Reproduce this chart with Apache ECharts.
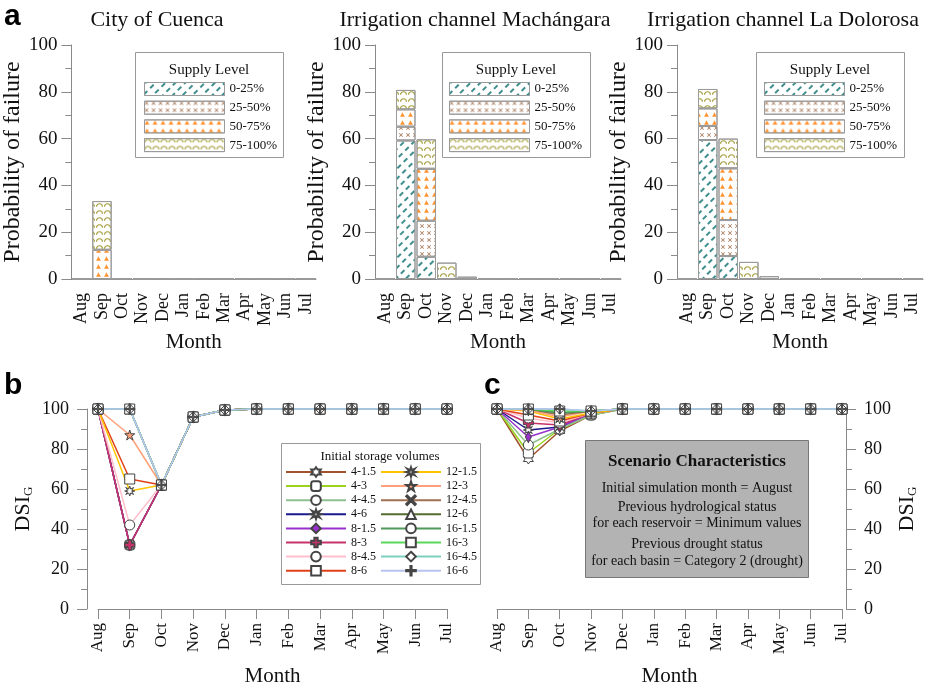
<!DOCTYPE html>
<html>
<head>
<meta charset="utf-8">
<script src="https://cdn.jsdelivr.net/npm/echarts@6/dist/echarts.min.js"></script>
<style>
  html, body { margin: 0; padding: 0; background: #fff; }
  #chart { width: 929px; height: 691px; }
</style>
</head>
<body>
<div id="chart"></div>
<script>
// ---- data ----
const months = ['Aug', 'Sep', 'Oct', 'Nov', 'Dec', 'Jan', 'Feb', 'Mar', 'Apr', 'May', 'Jun', 'Jul'];
const supplyLevels = ['0-25%', '25-50%', '50-75%', '75-100%'];
const yTicks = [0, 20, 40, 60, 80, 100];

// probability of failure, one row per supply level
const cuencaFailure = [
  [0, 0, 0, 0, 0, 0, 0, 0, 0, 0, 0, 0],
  [0, 0, 0, 0, 0, 0, 0, 0, 0, 0, 0, 0],
  [0, 12.5, 0, 0, 0, 0, 0, 0, 0, 0, 0, 0],
  [0, 20.8, 0, 0, 0, 0, 0, 0, 0, 0, 0, 0]
];
const machangaraFailure = [
  [0, 59.2, 9.5, 0, 0, 0, 0, 0, 0, 0, 0, 0],
  [0, 5.9, 15.4, 0, 0, 0, 0, 0, 0, 0, 0, 0],
  [0, 7.4, 22.2, 0, 0, 0, 0, 0, 0, 0, 0, 0],
  [0, 8.3, 12.6, 7.0, 1.0, 0, 0, 0.3, 0, 0, 0, 0]
];
const dolorosaFailure = [
  [0, 59.4, 9.8, 0, 0, 0, 0, 0, 0, 0, 0, 0],
  [0, 6.0, 15.4, 0, 0, 0, 0, 0, 0, 0, 0, 0],
  [0, 7.5, 22.1, 0, 0, 0, 0, 0, 0, 0, 0, 0],
  [0, 8.3, 12.7, 7.3, 1.2, 0, 0, 0.3, 0, 0, 0, 0]
];

const storageNames = ['4-1.5', '4-3', '4-4.5', '4-6', '8-1.5', '8-3', '8-4.5', '8-6',
  '12-1.5', '12-3', '12-4.5', '12-6', '16-1.5', '16-3', '16-4.5', '16-6'];

// DSI_G, panel b (one row per initial storage volume)
const dsiPanelB = [
  [100, 32, 62, 96, 99.5, 100, 100, 100, 100, 100, 100, 100],
  [100, 32, 62, 96, 99.5, 100, 100, 100, 100, 100, 100, 100],
  [100, 32, 62, 96, 99.5, 100, 100, 100, 100, 100, 100, 100],
  [100, 32, 62, 96, 99.5, 100, 100, 100, 100, 100, 100, 100],
  [100, 32, 62, 96, 99.5, 100, 100, 100, 100, 100, 100, 100],
  [100, 32, 62, 96, 99.5, 100, 100, 100, 100, 100, 100, 100],
  [100, 42, 62, 96, 99.5, 100, 100, 100, 100, 100, 100, 100],
  [100, 65, 62, 96, 99.5, 100, 100, 100, 100, 100, 100, 100],
  [100, 59, 62, 96, 99.5, 100, 100, 100, 100, 100, 100, 100],
  [100, 87, 62, 96, 99.5, 100, 100, 100, 100, 100, 100, 100],
  [100, 100, 62, 96, 99.5, 100, 100, 100, 100, 100, 100, 100],
  [100, 100, 62, 96, 99.5, 100, 100, 100, 100, 100, 100, 100],
  [100, 100, 62, 96, 99.5, 100, 100, 100, 100, 100, 100, 100],
  [100, 100, 62, 96, 99.5, 100, 100, 100, 100, 100, 100, 100],
  [100, 100, 62, 96, 99.5, 100, 100, 100, 100, 100, 100, 100],
  [100, 100, 62, 96, 99.5, 100, 100, 100, 100, 100, 100, 100]
];

// DSI_G, panel c
const dsiPanelC = [
  [100, 75, 89, 97, 100, 100, 100, 100, 100, 100, 100, 100],
  [100, 78, 90, 97, 100, 100, 100, 100, 100, 100, 100, 100],
  [100, 82, 90, 97, 100, 100, 100, 100, 100, 100, 100, 100],
  [100, 89.5, 91, 98, 100, 100, 100, 100, 100, 100, 100, 100],
  [100, 86, 91, 98, 100, 100, 100, 100, 100, 100, 100, 100],
  [100, 93, 92, 98, 100, 100, 100, 100, 100, 100, 100, 100],
  [100, 95.5, 93, 98, 100, 100, 100, 100, 100, 100, 100, 100],
  [100, 97, 94, 98, 100, 100, 100, 100, 100, 100, 100, 100],
  [100, 99, 95, 98, 100, 100, 100, 100, 100, 100, 100, 100],
  [100, 99.5, 96, 99, 100, 100, 100, 100, 100, 100, 100, 100],
  [100, 100, 97, 99, 100, 100, 100, 100, 100, 100, 100, 100],
  [100, 100, 98, 99, 100, 100, 100, 100, 100, 100, 100, 100],
  [100, 100, 98, 99, 100, 100, 100, 100, 100, 100, 100, 100],
  [100, 100, 99, 99, 100, 100, 100, 100, 100, 100, 100, 100],
  [100, 100, 100, 99, 100, 100, 100, 100, 100, 100, 100, 100],
  [100, 100, 100, 99, 100, 100, 100, 100, 100, 100, 100, 100]
];

// ---- styles ----
const SERIF = '"Liberation Serif", "Times New Roman", serif';
const SANS = '"Liberation Sans", Arial, sans-serif';
const GRAY = '#8a8a8a';
const TXT = '#111';

// fill patterns of the supply levels
const decals = [
  { symbol: 'rect', symbolSize: 1, color: '#3f8e8e', dashArrayX: [5, 4], dashArrayY: [1.8, 4.5], rotation: -Math.PI / 4 },
  { symbol: 'path://M1.5,0L5,3.5L8.5,0L10,1.5L6.5,5L10,8.5L8.5,10L5,6.5L1.5,10L0,8.5L3.5,5L0,1.5Z', symbolSize: 1, color: '#a87c5c', dashArrayX: [4, 3], dashArrayY: [4, 3] },
  { symbol: 'path://M5,0L7,4L10,9L0,9L3,4Z', symbolSize: 1, color: '#ff9433', dashArrayX: [5, 3], dashArrayY: [5, 2.5] },
  { symbol: 'path://M0,6A5,5 0 0 1 10,6L8.4,6A3.4,3.4 0 0 0 1.6,6Z', symbolSize: 1, color: '#a39c36', dashArrayX: [7, 1], dashArrayY: [4, 2.5] }
];

const storageColors = ['#a0522d', '#9ad21e', '#8fc08f', '#1a1a8c', '#9932cc', '#c8326a', '#ffc0cb', '#e0401a',
  '#ffc400', '#ffa07a', '#a07050', '#556b2f', '#4e9a5a', '#5ad85a', '#7fcfc0', '#b8c4f0'];
const storageSymbols = [
  'path://M5,0L6.44,2.5L9.33,2.5L7.89,5L9.33,7.5L6.44,7.5L5,10L3.56,7.5L0.67,7.5L2.11,5L0.67,2.5L3.56,2.5Z',
  'roundRect',
  'circle',
  'path://M5,0L6,3L9,1.5L7,4.2L10,5L7,5.8L9,8.5L6,7L5,10L4,7L1,8.5L3,5.8L0,5L3,4.2L1,1.5L4,3Z',
  'diamond',
  'path://M3.3,0H6.7V3.3H10V6.7H6.7V10H3.3V6.7H0V3.3H3.3Z',
  'circle',
  'rect',
  'path://M5,0L6,3L9,1.5L7,4.2L10,5L7,5.8L9,8.5L6,7L5,10L4,7L1,8.5L3,5.8L0,5L3,4.2L1,1.5L4,3Z',
  'path://M5,0L6.2,3.6L10,3.6L6.9,5.9L8.1,9.5L5,7.3L1.9,9.5L3.1,5.9L0,3.6L3.8,3.6Z',
  'path://M1,0L5,4L9,0L10,1L6,5L10,9L9,10L5,6L1,10L0,9L4,5L0,1Z',
  'triangle',
  'circle',
  'rect',
  'diamond',
  'path://M4.4,0H5.6V4.4H10V5.6H5.6V10H4.4V5.6H0V4.4H4.4Z'
];
const storageFills = ['#fff', '#fff', '#fff', '#fff', '#9932cc', '#c8326a', '#fff', '#fff',
  '#fff', '#ffa07a', '#555', '#fff', '#fff', '#fff', '#fff', '#555'];

// ---- layout ----
const topGrids = [
  { left: 66, top: 45, width: 250, height: 234 },
  { left: 375, top: 45, width: 246, height: 234 },
  { left: 677, top: 45, width: 246, height: 234 }
];
const bottomGrids = [
  { left: 98, top: 409, width: 349, height: 200 },
  { left: 497, top: 409, width: 345, height: 200 }
];

const axisLine = { show: true, lineStyle: { color: GRAY, width: 1 } };

const grids = [];
const xAxes = [];
const yAxes = [];
const series = [];

const failureSets = [cuencaFailure, machangaraFailure, dolorosaFailure];
topGrids.forEach(function (g, p) {
  grids.push(g);
  xAxes.push({
    type: 'category', gridIndex: p, data: months, boundaryGap: true,
    axisLine: axisLine,
    axisTick: { alignWithLabel: true, length: 7, lineStyle: { color: GRAY } },
    axisLabel: { rotate: 90, interval: 0, margin: 14, fontFamily: SERIF, fontSize: 18, color: TXT },
    name: 'Month', nameLocation: 'middle', nameGap: 53,
    nameTextStyle: { fontFamily: SERIF, fontSize: 21, color: TXT }
  });
  yAxes.push({
    type: 'value', gridIndex: p, min: yTicks[0], max: yTicks[yTicks.length - 1], interval: 20,
    axisLine: axisLine,
    axisTick: { show: true, length: 10, lineStyle: { color: GRAY } },
    minorTick: { show: true, splitNumber: 2, length: 6, lineStyle: { color: GRAY } },
    splitLine: { show: false },
    axisLabel: { margin: 14, fontFamily: SERIF, fontSize: 19, color: TXT },
    name: 'Probability of failure', nameLocation: 'middle', nameGap: 40,
    nameTextStyle: { fontFamily: SERIF, fontSize: 24, color: TXT }
  });
  failureSets[p].forEach(function (vals, k) {
    series.push({
      type: 'bar', name: supplyLevels[k], xAxisIndex: p, yAxisIndex: p, stack: 'panel' + p,
      data: vals, barCategoryGap: '5%',
      itemStyle: { color: '#fff', borderColor: '#9a9a9a', borderWidth: 1, decal: decals[k] }
    });
  });
});

const dsiName = '{a|DSI}{b|G}';
const dsiRich = {
  a: { fontFamily: SERIF, fontSize: 22, color: TXT },
  b: { fontFamily: SERIF, fontSize: 13, color: TXT, verticalAlign: 'bottom', padding: [10, 0, 0, 0] }
};

const dsiSets = [dsiPanelB, dsiPanelC];
bottomGrids.forEach(function (g, j) {
  const idx = 3 + j;
  grids.push(g);
  xAxes.push({
    type: 'category', gridIndex: idx, data: months, boundaryGap: false,
    axisLine: axisLine,
    axisTick: { length: 10, lineStyle: { color: GRAY } },
    axisLabel: { rotate: 90, interval: 0, margin: 14, fontFamily: SERIF, fontSize: 17, color: TXT },
    name: 'Month', nameLocation: 'middle', nameGap: 57,
    nameTextStyle: { fontFamily: SERIF, fontSize: 21, color: TXT }
  });
  yAxes.push({
    type: 'value', gridIndex: idx, min: 0, max: 100, interval: 20,
    position: j === 0 ? 'left' : 'right', offset: j === 0 ? 11 : 4,
    axisLine: axisLine,
    axisTick: { show: true, length: 10, lineStyle: { color: GRAY } },
    minorTick: { show: true, splitNumber: 2, length: 6, lineStyle: { color: GRAY } },
    splitLine: { show: false },
    axisLabel: { margin: 18, fontFamily: SERIF, fontSize: 18, color: TXT },
    name: dsiName, nameLocation: 'middle', nameGap: j === 0 ? 52 : 50, nameRotate: 90,
    nameTextStyle: { rich: dsiRich }
  });
  dsiSets[j].forEach(function (vals, i) {
    series.push({
      type: 'line', name: storageNames[i], xAxisIndex: idx, yAxisIndex: idx,
      data: vals, clip: false,
      symbol: storageSymbols[i], symbolSize: i === 4 ? [6, 11] : 10,
      lineStyle: { color: storageColors[i], width: 1.5 },
      itemStyle: { color: storageFills[i], borderColor: '#444', borderWidth: 1 }
    });
  });
});

// ---- legends ----
const topLegendLeft = [144, 449, 764];
const legends = topLegendLeft.map(function (x) {
  return {
    left: x, top: 82, orient: 'vertical', padding: 0, selectedMode: false,
    icon: 'rect', itemWidth: 80, itemHeight: 13, itemGap: 4.7,
    data: supplyLevels,
    itemStyle: { borderColor: '#9a9a9a', borderWidth: 1 },
    textStyle: { fontFamily: SERIF, fontSize: 13, lineHeight: 13, color: TXT }
  };
});
[storageNames.slice(0, 8), storageNames.slice(8)].forEach(function (names, c) {
  legends.push({
    left: c === 0 ? 285 : 380, top: 466, orient: 'vertical', padding: 0, selectedMode: false,
    itemWidth: 60, itemHeight: 12, itemGap: 2.1,
    data: names,
    textStyle: { fontFamily: SERIF, fontSize: 12, lineHeight: 12, color: TXT }
  });
});

// ---- texts and boxes ----
const graphics = [];
function txt(x, y, s, size, opts) {
  graphics.push(Object.assign({
    type: 'text', x: x, y: y, z: 10,
    style: Object.assign({ text: s, font: size + 'px ' + SERIF, fill: TXT, align: 'center', verticalAlign: 'middle' }, opts || {})
  }));
}
function box(x, y, w, h, fill, stroke) {
  graphics.push({ type: 'rect', shape: { x: x, y: y, width: w, height: h }, z: 3,
    style: { fill: fill, stroke: stroke, lineWidth: 1 } });
}
graphics.push({ type: 'text', x: 4, y: 17, z: 10, style: { text: 'a', font: 'bold 30px ' + SANS, fill: '#000', verticalAlign: 'middle' } });
graphics.push({ type: 'text', x: 4, y: 386, z: 10, style: { text: 'b', font: 'bold 30px ' + SANS, fill: '#000', verticalAlign: 'middle' } });
graphics.push({ type: 'text', x: 484, y: 386, z: 10, style: { text: 'c', font: 'bold 30px ' + SANS, fill: '#000', verticalAlign: 'middle' } });
txt(157, 20, 'City of Cuenca', 22);
txt(475, 20, 'Irrigation channel Machángara', 22);
txt(783, 20, 'Irrigation channel La Dolorosa', 22);

[135, 442, 756].forEach(function (x) {
  box(x + 0.5, 52.5, 148, 105, '#fff', '#999');
  txt(x + 74, 70, 'Supply Level', 15);
});

box(281.5, 443.5, 199, 141, '#fff', '#999');
txt(380, 457, 'Initial storage volumes', 13);

box(585.5, 440.5, 223, 137, '#b3b3b3', '#777');
txt(697, 462, 'Scenario Characteristics', 17, { font: 'bold 17px ' + SERIF });
txt(697, 488, 'Initial simulation month = August', 14);
txt(697, 507, 'Previous hydrological status', 14);
txt(697, 523, 'for each reservoir = Minimum values', 14);
txt(697, 544, 'Previous drought status', 14);
txt(697, 561, 'for each basin = Category 2 (drought)', 14);

const chart = echarts.init(document.getElementById('chart'));
chart.setOption({
  animation: false,
  backgroundColor: '#fff',
  grid: grids,
  xAxis: xAxes,
  yAxis: yAxes,
  legend: legends,
  series: series,
  graphic: graphics
});
</script>
</body>
</html>
